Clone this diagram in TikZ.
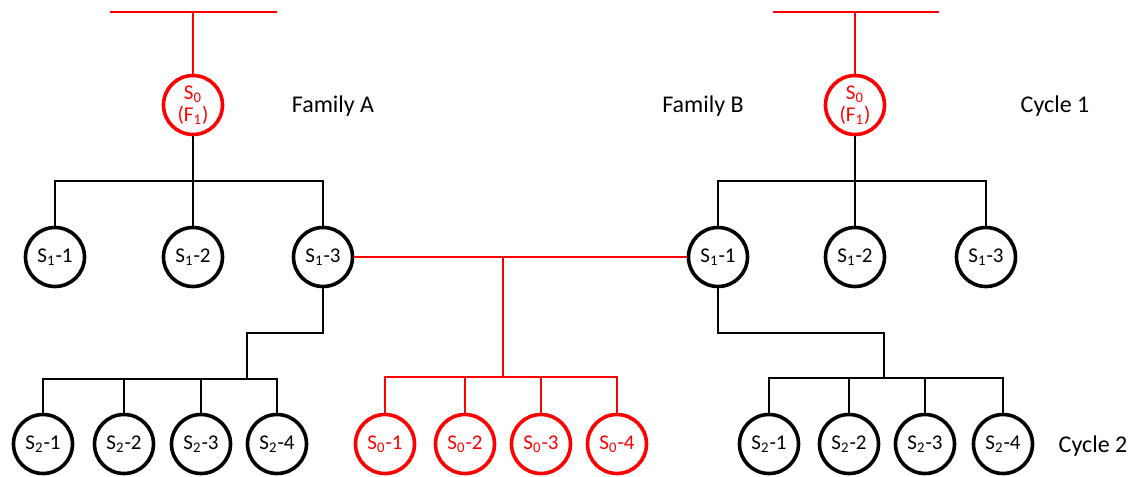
\documentclass[tikz,border=0pt]{standalone}
\usepackage{fontspec}
\setmainfont{Carlito}
\tikzset{
  unit/.style={circle, draw, line width=1.8pt, minimum size=29.5pt, inner sep=0pt, font=\fontsize{10.5}{11}\selectfont, align=center},
  founder/.style={unit, red, text=red},
  link/.style={line width=1.3pt},
  label/.style={font=\fontsize{12}{14}\selectfont}
}
\newcommand{\Sx}[1]{S\textsubscript{#1}}
\begin{document}
\begin{tikzpicture}[x=0.5pt, y=-0.5pt]
\useasboundingbox (0,0) rectangle (1132,477);

% Family A
\node [founder] (s0a) at (193,105) {\Sx{0}\\(F\textsubscript{1})};
\node [unit] (s1a1) at (55,257) {\Sx{1}-1};
\node [unit] (s1a2) at (193,257) {\Sx{1}-2};
\node [unit] (s1a3) at (323,257) {\Sx{1}-3};
\node [unit] (s2a1) at (43,444) {\Sx{2}-1};
\node [unit] (s2a2) at (124,444) {\Sx{2}-2};
\node [unit] (s2a3) at (201,444) {\Sx{2}-3};
\node [unit] (s2a4) at (277,444) {\Sx{2}-4};
\coordinate (tlA) at (110,12);
\coordinate (trA) at (277,12);
\coordinate (topA) at (193,12);
\coordinate (barA) at (193,181);
\coordinate (kinkA) at (247,333);
\coordinate (barA2) at (247,379);

\draw [link, red] (tlA) -- (trA);
\draw [link, red] (topA) -- (s0a.north);
\draw [link] (s0a.south) -- (barA);
\draw [link] (s1a1.north) |- (barA) -| (s1a3.north);
\draw [link] (barA) -- (s1a2.north);
\draw [link] (s1a3.south) |- (kinkA) -- (barA2);
\draw [link] (s2a1.north) |- (barA2) -| (s2a4.north);
\draw [link] (s2a2.north) -- (s2a2.north |- barA2);
\draw [link] (s2a3.north) -- (s2a3.north |- barA2);

% Family B
\node [founder] (s0b) at (855,105) {\Sx{0}\\(F\textsubscript{1})};
\node [unit] (s1b1) at (718,257) {\Sx{1}-1};
\node [unit] (s1b2) at (855,257) {\Sx{1}-2};
\node [unit] (s1b3) at (986,257) {\Sx{1}-3};
\node [unit] (s2b1) at (769,444) {\Sx{2}-1};
\node [unit] (s2b2) at (849,444) {\Sx{2}-2};
\node [unit] (s2b3) at (925,444) {\Sx{2}-3};
\node [unit] (s2b4) at (1003,444) {\Sx{2}-4};
\coordinate (tlB) at (773,12);
\coordinate (trB) at (939,12);
\coordinate (topB) at (855,12);
\coordinate (barB) at (855,181);
\coordinate (kinkB) at (884,333);
\coordinate (barB2) at (884,378);

\draw [link, red] (tlB) -- (trB);
\draw [link, red] (topB) -- (s0b.north);
\draw [link] (s0b.south) -- (barB);
\draw [link] (s1b1.north) |- (barB) -| (s1b3.north);
\draw [link] (barB) -- (s1b2.north);
\draw [link] (s1b1.south) |- (kinkB) -- (barB2);
\draw [link] (s2b1.north) |- (barB2) -| (s2b4.north);
\draw [link] (s2b2.north) -- (s2b2.north |- barB2);
\draw [link] (s2b3.north) -- (s2b3.north |- barB2);

% crossing
\node [founder] (s01) at (385,444) {\Sx{0}-1};
\node [founder] (s02) at (465,444) {\Sx{0}-2};
\node [founder] (s03) at (541,444) {\Sx{0}-3};
\node [founder] (s04) at (617,444) {\Sx{0}-4};
\coordinate (cross) at (503,258);
\coordinate (barC) at (503,377);

\draw [link, red] (s1a3.east) -- (s1b1.west);
\draw [link, red] (cross) -- (barC);
\draw [link, red] (s01.north) |- (barC) -| (s04.north);
\draw [link, red] (s02.north) -- (s02.north |- barC);
\draw [link, red] (s03.north) -- (s03.north |- barC);

\node [label] (famA) at (333,106) {Family A};
\node [label] (famB) at (703,106) {Family B};
\node [label] (cyc1) at (1055,106) {Cycle 1};
\node [label] (cyc2) at (1093,446) {Cycle 2};
\end{tikzpicture}
\end{document}
